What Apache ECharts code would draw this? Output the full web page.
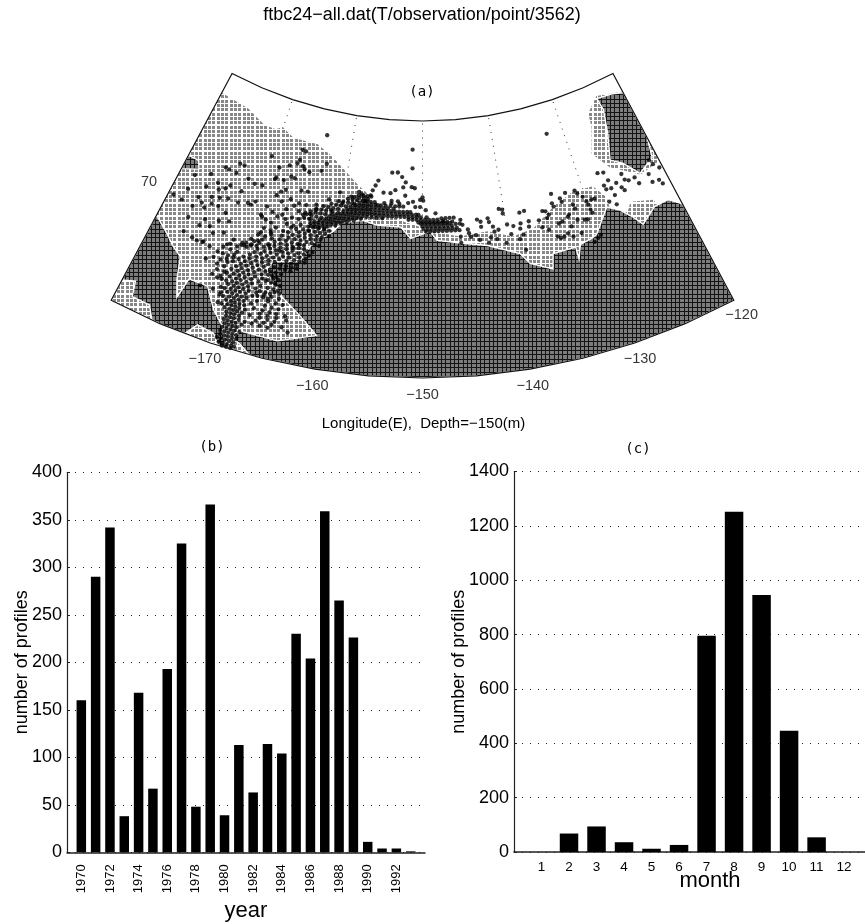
<!DOCTYPE html>
<html>
<head>
<meta charset="utf-8">
<style>html,body{margin:0;padding:0;background:#fff}#c{width:865px;height:924px}</style>
<script src="https://cdn.jsdelivr.net/npm/echarts@6/dist/echarts.min.js"></script>
</head>
<body>
<div id="c"></div>
<script>
// ---------- bar chart data ----------
const years = ['1969','1970','1971','1972','1973','1974','1975','1976','1977','1978','1979','1980','1981','1982','1983','1984','1985','1986','1987','1988','1989','1990','1991','1992','1993','1994'];
const yearCounts = [null,160,290,342,38,168,67,193,325,48,366,39,113,63,114,104,230,204,359,265,226,11,4,4,1,null];
const months = [1,2,3,4,5,6,7,8,9,10,11,12];
const monthCounts = [0,68,94,36,12,26,796,1252,946,446,54,0];

// ---------- map geography: [lon, lat] ----------
const southArc = [[-120,65],[-125,65],[-130,65],[-135,65],[-140,65],[-145,65],[-150,65],[-155,65],[-160,65],[-165,65],[-170,65],[-175,65],[-180,65]];
const northArc = [[-180,75],[-175,75],[-170,75],[-165,75],[-160,75],[-155,75],[-150,75],[-145,75],[-140,75],[-135,75],[-130,75],[-125,75],[-120,75]];
const shelfNorthEdge = [[-180,74.15],[-175.6,74.05],[-172.6,73.7],[-170.9,73.7],[-170.1,73.87],[-168.2,73.6],[-164.7,73.6],[-162.3,73.25],[-158.4,72.35],[-157,72.05],[-156.2,71.35],[-153.2,71.2],[-152.1,71.05],[-148.2,70.65],[-145.6,70.45],[-142.3,70.55],[-139.5,70.2],[-137,70.35],[-134,71],[-131.3,71.35],[-128.7,71.3],[-127.6,70.7],[-127.8,70],[-125.9,69.9],[-125.2,70.2],[-122.7,69.9],[-122.5,69.5],[-120.5,69],[-120.5,65]];
const deepEdge = [[-180,68.75],[-178.1,68.3],[-177.1,68],[-175.8,67.7],[-175.2,66.85],[-174.5,66.2],[-174.1,67.05],[-172.1,67.05],[-170.7,66.25],[-169.5,65.8],[-168.6,65.1],[-168,65],[-166.2,65],[-167.3,65.3],[-168.1,65.45],[-167.6,65.8],[-164,65.8],[-160.4,66.3],[-160.8,66.45],[-162.4,66.95],[-164.5,67.5],[-166,68.05],[-166.8,68.4],[-166.4,68.75],[-163.6,69],[-162.6,69.8],[-160.5,70.4],[-159.6,70.8],[-157.2,71],[-155.5,70.87],[-152.6,70.85],[-151.4,70.42],[-149.1,70.7],[-148.3,70.35],[-145.6,70.2],[-142.5,70],[-139,69.5],[-138.1,69.05],[-135.8,68.65],[-135.4,69.23],[-132.8,69.25],[-132.8,68.77],[-132.2,69.3],[-130.7,69.4],[-130.1,69.5],[-128,70.35],[-126.7,70.05],[-125.6,69.6],[-124.9,69.2],[-122.9,69.65],[-121.2,69.65],[-120,69.25]];
const nePatchLight = [[-125.8,74],[-123.7,74.5],[-120,74.2],[-120,71.15],[-122.8,71],[-125.9,71.75],[-127.4,72.5],[-126.1,73.45]];
const nePatchDark = [[-123.8,74.4],[-121.4,74.3],[-120,74.15],[-120,72.17],[-120.6,71.4],[-122.8,71.05],[-124.2,71.7],[-125.5,72],[-124.4,73],[-123.6,73.9]];
const nwPatchDark = [[-180,71.35],[-179.8,71.4],[-178.6,71.4],[-178.1,71.1],[-180,70.8]];
const swPatchLight = [[-180,65],[-180,65.9],[-178.8,66.1],[-178.4,65.5],[-176.6,65.5],[-175.8,65],[-178,65]];
const southPatchLight = [[-172.5,65.02],[-171.7,65.5],[-170,65.4],[-169.3,65.05],[-171,65]];
const meridians = [-170,-160,-150,-140,-130];
const meridianLats = [74.9,71];
const lonTicks = [-170,-160,-150,-140,-130,-120];

// ---------- observation stations ----------
const westStations = [[-175.2,71.6],[-174.7,71.58],[-173.7,71.95],[-173.1,71.95],[-173.7,71.56],[-172.05,71.53],[-171.1,71.42],[-170.15,71.46],[-178.2,70.82],[-176.5,71.13],[-175.3,70.93],[-174.9,70.7],[-174.2,70.84],[-176.4,70.61],[-173.8,71.02],[-178.2,70.22],[-175.3,70.33],[-176.7,70.11],[-179.4,69.77],[-178.3,69.74],[-176.1,69.97],[-174.4,70.42],[-172.3,70.97],[-173.45,70.52],[-172.2,70.51],[-171.1,70.63],[-170.3,70.78],[-170.7,70.61],[-175,70.09],[-176.9,69.7],[-175.6,69.83],[-174.2,70.1],[-173.1,69.96],[-175,69.43],[-176.8,69.24],[-173.5,69.58],[-172.4,69.7],[-175.3,69.13],[-174.2,69.25],[-172.5,69.22],[-176.6,68.66],[-173.6,69.05],[-171.7,68.84],[-174.3,68.57],[-173.4,68.53],[-170.6,68.56],[-175.5,68.58],[-174.9,68.54],[-174.2,68.61],[-173.3,68.03],[-172.1,67.56],[-171.5,67.5],[-172.8,66.98],[-171.5,67.03],[-170.6,67]];
const centralStations = [[-168.8,71.93],[-168.8,72.33],[-167.6,72.53],[-166.7,72.68],[-166.5,72.84],[-165.9,72.64],[-167,72.12],[-167.8,71.91],[-166.5,72.1],[-168.9,71.85],[-167.7,71.45],[-167.2,71.57],[-166.3,71.27],[-167.3,71.09],[-168.1,71.27],[-165.6,72.54],[-164.9,72.47],[-163.4,72.63],[-162.9,72.94],[-166.5,73.24],[-166,73.22],[-170.2,72.66],[-160.5,71.95],[-158.1,72.08],[-168.8,70.74],[-169.2,70.36],[-168.5,70.24],[-167.8,70.18],[-167.3,70.49],[-166.3,70.47],[-167.1,70.05],[-166.5,70.85],[-165.7,71.06],[-167.5,69.82],[-166.2,69.81],[-168.6,69.7],[-168.6,69.36],[-169.4,69.35],[-169.9,69.03],[-167.3,69.3],[-166,69.23],[-164.6,69.45],[-164,69.64],[-163.4,70.24],[-164.4,70.8],[-164.4,70.4],[-164.5,71.72],[-165.3,71.7],[-163.1,71.3],[-161.7,71.6],[-160,71.55],[-159,71.85],[-157.7,72],[-157.2,71.75],[-158.5,71.6],[-161.2,71.2],[-163,71.1],[-163.4,70.7],[-156.6,72],[-163.7,74.03]];
const barrowOffshore = [[-154.05,72.95],[-153.3,72.97],[-152.7,72.8],[-152.2,72.6],[-152.5,72.4],[-151.4,72.42],[-151,72.38],[-151.4,73.88],[-151.35,73.15],[-155.8,72.6],[-156.1,72.4],[-156.4,72.2],[-155,72.15],[-154.1,72.15],[-153.5,72.28],[-152.2,72.08],[-150,72.03],[-150.3,71.93],[-151.2,71.85],[-150.9,71.65],[-151.8,71.8],[-150.3,71.65],[-149.6,71.53],[-149.9,71.9],[-148.4,71.4],[-147.5,71.1],[-146.4,71.05],[-145.4,71.1],[-145.2,70.9]];
const beaufortStations = [[-143.4,71.05],[-143,70.95],[-143,70.75],[-142.1,71.05],[-142,70.9],[-141.6,70.7],[-141.5,70.5],[-141,70.55],[-144.6,70.7],[-144.5,70.55],[-144.3,70.4],[-145.5,70.45],[-145.5,70.2],[-143.7,70.45],[-143.3,70.25],[-142,70.3],[-142.3,70.1],[-141.3,70.2],[-140.3,70],[-140.6,71.35],[-140.2,71.3],[-140.2,71.15],[-139.9,70.7],[-139.2,70.6],[-139.6,70.3],[-138.2,71.07],[-137.6,71.1],[-137.3,70.67],[-138.3,70.65],[-138.45,70.45],[-137.4,70.46],[-138.2,70.2],[-136.1,70.62],[-135.45,70.94],[-135.1,70.9],[-134.8,70.74],[-134.1,71.14],[-134,71],[-133.9,71.5],[-132.2,71.39],[-133,71.24],[-132.9,71.09],[-131.7,70.87],[-131,71.37],[-130.8,71.23],[-130.3,71.04],[-130.05,70.82],[-129.95,70.68],[-129.4,70.83],[-129,70.82],[-129.9,70.47],[-129.8,70.33],[-131.6,70.69],[-132.7,70.47],[-132.5,70.53],[-133.9,70.31],[-133.45,70.35],[-135.1,70.63],[-135.9,70.32],[-135.2,70.17],[-132.6,70.07],[-132.7,69.67],[-133.2,69.85],[-133.7,69.76],[-134.1,69.74],[-134.4,69.83],[-131.7,70.25],[-130.9,70.17],[-130.55,70.14],[-131.7,69.71],[-129.7,69.41],[-130.1,69.33],[-130.6,69.23],[-138.7,70.05],[-138.25,69.6]];
const mackenzieStations = [[-132.3,73.8],[-127.6,71.71],[-126.9,71.65],[-126.7,71.3],[-127.4,71.17],[-127.3,71],[-126.7,70.97],[-125.9,71.09],[-124.9,71.33],[-124.8,71.08],[-125.5,70.85],[-125.3,70.7],[-124.4,70.99],[-123.6,71],[-123.4,70.72],[-126.6,70.67],[-121.9,70.88],[-121.9,70.54],[-121.1,70.5],[-120.9,71.15],[-120.4,70.92],[-121.1,71.36],[-120.9,70.31],[-127.5,70.51],[-126.8,70.31]];
// dense ship tracks, one row per latitude: [lat, lon, lon, ...]
const chukchiRows = [
[65.05,-168.9,-168.5,-168.1],[65.15,-169.3,-168.9,-168.5,-168.1,-167.8],[65.3,-169.6,-169.2,-168.8,-168.4,-168],[65.45,-169.4,-169,-168.6,-168.2,-167.8],[65.6,-169.5,-169.1,-168.7,-168.3,-167.9],[65.75,-169.4,-169,-168.6,-168.2,-167.7],[65.9,-169.3,-168.9,-168.5,-168.1],[66.05,-169.5,-169.1,-168.7,-168.3,-167.7],[66.2,-169.4,-169,-168.6,-168.1,-167.5],[66.35,-169.5,-169.1,-168.7,-168.2],[66.5,-169.8,-169.3,-168.9,-168.5,-168,-167.2],[66.65,-169.6,-169.2,-168.8,-168.4,-167.8],[66.8,-169.9,-169.4,-169,-168.5,-168,-167],[66.95,-169.7,-169.2,-168.7,-168.2,-167.4],[67.1,-170,-169.5,-169,-168.5,-168,-166.9],[67.25,-169.8,-169.3,-168.8,-168.2,-167.5],[67.4,-170.2,-169.6,-169.1,-168.6,-168,-167.2,-166.4],[67.55,-169.9,-169.4,-168.8,-168.2,-167.4],[67.7,-170.3,-169.6,-169.1,-168.5,-167.9,-167,-166.2],[67.85,-170,-169.4,-168.8,-168.1,-167.3],[68,-170.4,-169.7,-169.1,-168.5,-167.8,-167,-166.4],[68.15,-170,-169.4,-168.7,-168,-167.2],[68.3,-171.2,-170.5,-169.6,-169,-168.3,-167.6,-166.9],[68.45,-172.4,-171.8,-171.2,-170.6,-170,-169.3,-168.6,-167.9,-167.2],[68.6,-169.6,-168.9,-168.2,-167.5,-166.8],[68.75,-169,-168.3,-167.6,-166.9,-166.2],[68.9,-168.6,-167.9,-167.2,-166.5,-165.8,-165],[69.05,-168.4,-167.6,-166.9,-166.2,-165.5,-164.8],[69.2,-167.8,-167.1,-166.4,-165.7,-165,-164.3],[69.35,-167.4,-166.7,-166,-165.3,-164.6],[69.5,-166.8,-166.1,-165.4,-164.7,-164,-163.4],[69.65,-166.3,-165.6,-164.9,-164.2,-163.5],[69.8,-165.4,-164.7,-164,-163.3,-162.7],[69.95,-165,-164.3,-163.6,-162.9,-162.3],[70.1,-164.4,-163.7,-163,-162.3,-161.7],[70.25,-164,-163.3,-162.6,-162,-161.4],[70.4,-163.5,-162.9,-162.3,-161.6,-161],
[66.2,-166.8,-166,-165.2,-163.2],[66.35,-166.5,-165.7,-164.9,-163.9],[66.5,-166.2,-165.4,-164.7],[66.65,-166.3,-165.5,-164.6,-163.6],[66.8,-166.1,-165.4,-164.7,-163.8],[67,-166,-165.3,-164.6],[67.2,-165.8,-165,-164.3],[67.4,-165.6,-164.8],[67.6,-165.4,-164.9],[67.9,-165.5,-165],[68.1,-165.9,-165.3],
[68.2,-172.6,-171.8,-171],[68,-172,-171.2],[67.8,-171.8,-171],[67.6,-171.2],[68.7,-172,-171.2,-170.4],[68.9,-171.4,-170.6],[69.1,-171.2,-170.2,-169.2],
[69.6,-168.8,-168,-167.2],[69.9,-168.4,-167.6],[70.3,-169,-166,-165.2],[70.6,-168,-166.8,-165.6,-164.8],[70.9,-165,-164.2,-163.6],[71.2,-165.2,-164.3],
[67.3,-167,-166.4,-165.9],[67.5,-166.9,-166.3,-165.8],[67.7,-165.6,-165.1],[67.95,-166.6,-166,-165.6],[68.2,-166.5,-166.1,-165.6],[68.35,-166.4,-165.8,-165.2],[68.55,-166.1,-165.5,-164.9,-164.3],[68.7,-165.5,-164.9,-164.3,-163.7],[68.85,-164.4,-163.8],[69,-170.2,-169.6,-164.2,-163.6,-163],[69.15,-169.8,-169.2,-168.6,-163.7,-163],[69.3,-169,-168.4,-163.9,-163.3,-162.7],[69.45,-168.2,-163,-162.4],[69.75,-167.4,-162.3,-161.8],[70,-166.2,-165.6,-161.8],[70.2,-165.4,-164.8,-160.9],
[66.6,-170.6,-170.2],[66.9,-170.7,-170.3],[67.2,-170.8,-170.4],[67.5,-171,-170.5],[67.8,-170.7]];
const barrowRows = [
[70.45,-163.2,-162.7,-162.2,-161.6],[70.55,-163.3,-162.8,-162.3,-161.8,-161.3],[70.65,-162.9,-162.4,-161.9,-161.4,-160.9,-160.4],[70.75,-162.3,-161.8,-161.3,-160.8,-160.3,-159.8],[70.85,-161.6,-161.1,-160.6,-160.1,-159.6,-159.1],[70.95,-161.3,-160.8,-160.3,-159.8,-159.3,-158.8,-158.3],
[71.05,-161,-160.5,-160,-159.5,-159,-158.5,-158,-157.5,-150.5,-150,-149.5,-149,-148.5,-148,-147.5,-147],
[71.15,-160.3,-159.8,-159.3,-158.8,-158.3,-157.8,-157.3,-156.8,-156.2,-155.6,-154.9,-151.7,-151.2,-150.7,-150.2,-149.7,-149.2,-148.7,-148.2],
[71.25,-159.7,-159.2,-158.7,-158.2,-157.7,-157.2,-156.7,-156.2,-155.7,-155.2,-154.7,-154.2,-153.7,-153.2,-152.7,-152.2,-151.7,-151.2,-150.7,-150.2,-149.5],
[71.35,-159.3,-158.8,-158.3,-157.8,-157.3,-156.8,-156.3,-155.8,-155.3,-154.8,-154.3,-153.8,-153.3,-152.8,-152.3,-151.8,-151.3,-150.8,-150.5],
[71.45,-158.9,-158.4,-157.9,-157.4,-156.9,-156.4,-155.9,-155.4,-154.9,-154.4,-153.9,-153.4,-152.9,-152.4,-151.9,-151.5],
[71.55,-158.3,-157.8,-157.3,-156.8,-156.3,-155.8,-155.3,-154.8,-154.3,-153.6],[71.65,-157.9,-157.4,-156.9,-156.4,-155.9,-155.6],[71.75,-157.5,-157,-156.5,-156],
[70.7,-149.6,-149.1,-148.6,-148.1,-147.6,-147.1,-146.6,-146.1,-145.6],[70.8,-149.9,-149.4,-148.9,-148.4,-147.9,-147.4,-146.9,-146.4,-145.9],[70.9,-150,-149.5,-149,-148.5,-148,-147.5,-147,-146.5],[71,-150.2,-149.7,-149.2,-148.7,-148.2,-147.7,-147.2,-146.7],
[71.85,-158.6,-158,-157.4,-156.9],[71.95,-158.1,-157.5,-157,-156.5],[71.75,-159.4,-158.8,-158.2],[71.6,-160.5,-159.9,-159.3,-158.8],[71.45,-161.3,-160.7,-160.1,-159.5],[71.3,-162.2,-161.6,-161,-160.4],[71.15,-163,-162.4,-161.8,-161],[71,-163.6,-163,-162.4,-161.8],[70.85,-164,-163.4,-162.8,-162.2],[70.7,-164.2,-163.6],[71.65,-155.2,-154.6,-154,-153.4,-152.9,-152.4],[71.75,-154.8,-153.9,-152.9],[71.85,-153.9,-153.1],[71.2,-147.7,-147.2,-146.7,-146.2],[70.95,-146,-145.5]];

const FONT = '"Liberation Sans", Arial, sans-serif';
const MONO = '"DejaVu Sans Mono", monospace';

function texture(bg, fg, at) {
  const cv = document.createElement('canvas');
  cv.width = 13; cv.height = 13;
  const g = cv.getContext('2d');
  g.fillStyle = bg; g.fillRect(0, 0, 13, 13);
  g.fillStyle = fg;
  at.forEach(a => at.forEach(b => g.fillRect(a[0], b[0], a[1], b[1])));
  return { image: cv, repeat: 'repeat' };
}
const darkFill = texture('#141414', '#7c7c7c', [[0, 3], [4, 4], [9, 3]]);
const lightFill = texture('#ffffff', '#878787', [[0, 3], [4, 3], [9, 3]]);

function ringSeries(name, ring, style, z) {
  return {
    type: 'custom', name, coordinateSystem: 'polar', polarIndex: 0, silent: true, z, animation: false, clip: false,
    data: [[ring[0][1], ring[0][0]]],
    renderItem: (p, api) => ({
      type: 'polygon',
      shape: { points: ring.map(q => api.coord([q[1], q[0]]).slice(0, 2)) },
      style
    })
  };
}
const edgeStyle = { stroke: '#fff', lineWidth: 1.3 };
const stations = westStations.concat(centralStations, barrowOffshore, beaufortStations, mackenzieStations);
const rowPoints = chukchiRows.concat(barrowRows).flatMap(r => r.slice(1).map(lon => [lon, r[0]]));
const stationData = stations.concat(rowPoints).map(p => [p[1], p[0]]);

function yAxisFor(i, maxV, step, gap) {
  return {
    gridIndex: i, type: 'value', min: 0, max: maxV, interval: step, name: 'number of profiles', nameLocation: 'middle', nameRotate: 90, nameGap: gap,
    nameMoveOverlap: false,
    nameTextStyle: { fontFamily: FONT, fontSize: 18, color: '#000' },
    axisLine: { show: true, lineStyle: { color: '#222', width: 1.2 } },
    axisTick: { show: true, inside: true, length: 3, lineStyle: { color: '#222' } },
    axisLabel: { margin: 5, fontFamily: FONT, fontSize: 18, color: '#000', formatter: v => String(v) },
    splitLine: { show: true, lineStyle: { color: '#222', width: 1, type: [1, 7] } }
  };
}
const xLine = { lineStyle: { color: '#222', width: 1.5 } };

function panelText(text, x, y, font) {
  return { type: 'text', x, y, silent: true, style: { text, font, fill: '#000', textAlign: 'center', textVerticalAlign: 'middle' } };
}

const chart = echarts.init(document.getElementById('c'), null, { renderer: 'canvas' });
chart.setOption({
  backgroundColor: '#fff',
  animation: false,
  polar: { center: [422.5, -284], radius: [405, 687.7] },
  angleAxis: { show: false, type: 'value', min: -180, max: -120, startAngle: 241.95, endAngle: 298.05, clockwise: false },
  radiusAxis: { show: false, type: 'value', min: 64, max: 75, inverse: true },
  grid: [
    { left: 67, top: 472.3, width: 358, height: 380 },
    { left: 514, top: 471.5, width: 351, height: 380.5 }
  ],
  xAxis: [
    {
      gridIndex: 0, type: 'category', data: years, boundaryGap: false, name: 'year', nameLocation: 'middle', nameGap: 48,
      nameMoveOverlap: false,
      nameTextStyle: { fontFamily: FONT, fontSize: 22, color: '#000' },
      axisLine: xLine, axisTick: { show: false }, splitLine: { show: false },
      axisLabel: { interval: (i, v) => (+v % 2 === 0 && +v <= 1992), rotate: 90, margin: 12, fontFamily: FONT, fontSize: 13, color: '#000' }
    },
    {
      gridIndex: 1, type: 'value', min: 0, max: 12.76, interval: 1, name: 'month', nameLocation: 'middle', nameGap: 18,
      nameMoveOverlap: false,
      nameTextStyle: { fontFamily: FONT, fontSize: 22, color: '#000', padding: [0, 0, 0, 41] },
      axisLine: xLine, axisTick: { show: false }, splitLine: { show: false },
      axisLabel: { margin: 8, fontFamily: FONT, fontSize: 13.5, color: '#000', showMinLabel: false, showMaxLabel: false, formatter: v => (months.includes(v) ? String(v) : '') }
    }
  ],
  yAxis: [yAxisFor(0, 400, 50, 36), yAxisFor(1, 1400, 200, 46)],
  graphic: [
    panelText('ftbc24\u2212all.dat(T/observation/point/3562)', 422, 15, '18px ' + FONT),
    panelText('(a)', 422, 92, '14px ' + MONO),
    panelText('Longitude(E),  Depth=\u2212150(m)', 423.5, 424, '15px ' + FONT),
    panelText('(b)', 212, 447, '14px ' + MONO),
    panelText('(c)', 638, 449, '14px ' + MONO)
  ],
  series: [
    {
      type: 'custom', name: 'meridians', coordinateSystem: 'polar', silent: true, z: 1, animation: false, clip: false,
      data: meridians.map(lon => [meridianLats[0], lon]),
      renderItem: (p, api) => {
        const lon = api.value(1);
        return {
          type: 'polyline',
          shape: { points: meridianLats.map(lat => api.coord([lat, lon]).slice(0, 2)) },
          style: { stroke: '#333', lineWidth: 1, lineDash: [1, 6], fill: 'none' }
        };
      }
    },
    ringSeries('shelf', shelfNorthEdge.concat(southArc.slice(1)), { fill: lightFill, stroke: null }, 2),
    ringSeries('deep', deepEdge.concat(southArc), Object.assign({ fill: darkFill }, edgeStyle), 3),
    ringSeries('ne-shelf', nePatchLight, { fill: lightFill }, 3),
    ringSeries('ne-deep', nePatchDark, Object.assign({ fill: darkFill }, edgeStyle), 4),
    ringSeries('nw-deep', nwPatchDark, Object.assign({ fill: darkFill }, edgeStyle), 4),
    ringSeries('sw-shelf', swPatchLight, Object.assign({ fill: lightFill }, edgeStyle), 4),
    ringSeries('s-shelf', southPatchLight, Object.assign({ fill: lightFill }, edgeStyle), 4),
    {
      type: 'scatter', name: 'stations', coordinateSystem: 'polar', silent: true, z: 5, clip: false, animation: false,
      symbolSize: 4.3, itemStyle: { color: '#000' }, large: false, data: stationData
    },
    ringSeries('frame', northArc.concat(southArc), { fill: 'none', stroke: '#111', lineWidth: 1.2 }, 6),
    {
      type: 'scatter', name: 'lon ticks', coordinateSystem: 'polar', silent: true, z: 7, clip: false, animation: false,
      symbolSize: 1, itemStyle: { color: 'rgba(0,0,0,0)' },
      data: lonTicks.map(lon => [64.35, lon]),
      label: { show: true, position: 'inside', fontFamily: FONT, fontSize: 14.5, color: '#000', formatter: p => String(p.value[1]).replace('-', '\u2212') }
    },
    {
      type: 'scatter', name: 'lat tick', coordinateSystem: 'polar', silent: true, z: 7, clip: false, animation: false,
      symbolSize: 1, itemStyle: { color: 'rgba(0,0,0,0)' },
      data: [[70, -180]],
      label: { show: true, position: 'left', distance: 14, offset: [0, -5], fontFamily: FONT, fontSize: 14.5, color: '#000', formatter: p => String(p.value[0]) }
    },
    { type: 'bar', name: 'year', xAxisIndex: 0, yAxisIndex: 0, data: yearCounts, barWidth: 9.5, itemStyle: { color: '#000' }, silent: true, z: 3 },
    { type: 'bar', name: 'month', xAxisIndex: 1, yAxisIndex: 1, data: months.map((m, i) => [m, monthCounts[i]]), barWidth: 18.5, itemStyle: { color: '#000' }, silent: true, z: 3 }
  ]
});
</script>
</body>
</html>
